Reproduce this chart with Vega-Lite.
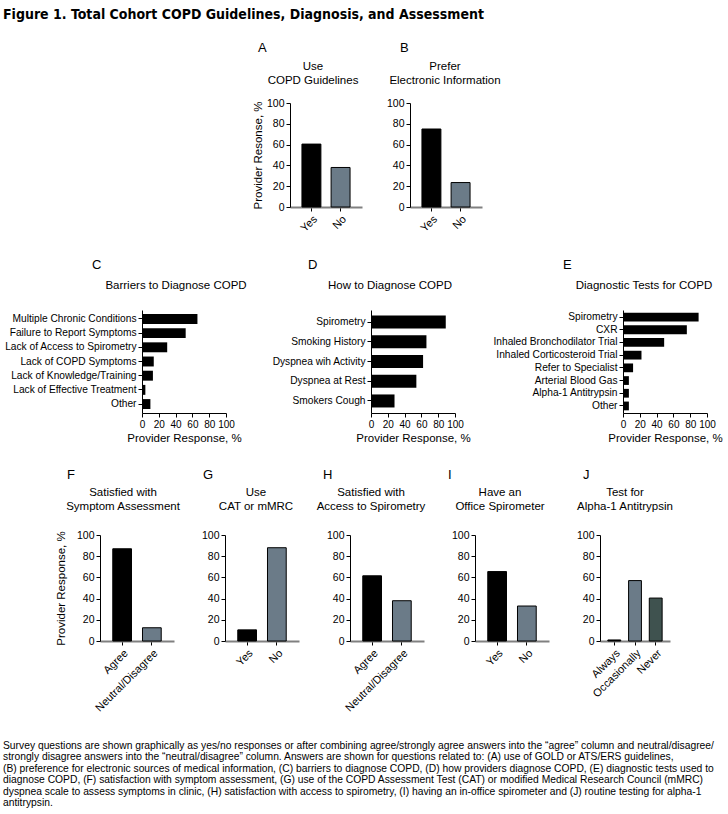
{
  "$schema": "https://vega.github.io/schema/vega-lite/v6.json",
  "background": "white",
  "padding": {"left": 3, "top": 8, "right": 5, "bottom": 5},
  "spacing": 0,
  "datasets": {
    "A": [{"response": "Yes", "percent": 60.5}, {"response": "No", "percent": 38}],
    "B": [{"response": "Yes", "percent": 75}, {"response": "No", "percent": 23.5}],
    "C": [
      {"item": "Multiple Chronic Conditions", "percent": 66},
      {"item": "Failure to Report Symptoms", "percent": 52},
      {"item": "Lack of Access to Spirometry", "percent": 30},
      {"item": "Lack of COPD Symptoms", "percent": 14},
      {"item": "Lack of Knowledge/Training", "percent": 13},
      {"item": "Lack of Effective Treatment", "percent": 4},
      {"item": "Other", "percent": 10}
    ],
    "D": [
      {"item": "Spirometry", "percent": 89},
      {"item": "Smoking History", "percent": 66},
      {"item": "Dyspnea wih Activity", "percent": 62},
      {"item": "Dyspnea at Rest", "percent": 54},
      {"item": "Smokers Cough", "percent": 28}
    ],
    "E": [
      {"item": "Spirometry", "percent": 90},
      {"item": "CXR", "percent": 76},
      {"item": "Inhaled Bronchodilator Trial", "percent": 49},
      {"item": "Inhaled Corticosteroid Trial", "percent": 22},
      {"item": "Refer to Specialist", "percent": 12},
      {"item": "Arterial Blood Gas", "percent": 7},
      {"item": "Alpha-1 Antitrypsin", "percent": 7},
      {"item": "Other", "percent": 7}
    ],
    "F": [{"response": "Agree", "percent": 87}, {"response": "Neutral/Disagree", "percent": 12.5}],
    "G": [{"response": "Yes", "percent": 10.5}, {"response": "No", "percent": 88}],
    "H": [{"response": "Agree", "percent": 61.5}, {"response": "Neutral/Disagree", "percent": 38}],
    "I": [{"response": "Yes", "percent": 65.5}, {"response": "No", "percent": 33}],
    "J": [{"response": "Always", "percent": 1}, {"response": "Occasionally", "percent": 57}, {"response": "Never", "percent": 40.5}],
    "blank": [{}]
  },
  "config": {
    "font": "Liberation Sans",
    "view": {"stroke": null},
    "title": {"fontSize": 11.5, "fontWeight": "normal", "color": "#000", "baseline": "bottom", "lineHeight": 13.5, "frame": "group"},
    "axis": {"labelFontSize": 10.5, "titleFontSize": 11.5, "titleFontWeight": "normal", "labelColor": "#000", "titleColor": "#000", "domainColor": "#000", "tickColor": "#000", "tickSize": 4, "labelPadding": 2, "grid": false, "labelFlush": false}
  },
  "vconcat": [
    {"hconcat": [
      {"width": 100, "height": 156, "data": {"name": "blank"}, "mark": {"type": "point", "opacity": 0}, "encoding": {},
       "title": {"text": "Figure 1. Total Cohort COPD Guidelines, Diagnosis, and Assessment", "anchor": "start", "font": "Noto Sans Condensed, DejaVu Sans Condensed, Liberation Sans", "fontWeight": "bold", "fontSize": 14, "offset": 81}},
      {"width": 187, "height": 104, "data": {"name": "blank"}, "mark": {"type": "point", "opacity": 0}, "encoding": {},
       "title": {"text": "A", "anchor": "start", "dx": 155, "offset": 48, "fontSize": 13}},
      {"width": 72, "height": 104, "data": {"name": "A"},
       "title": {"text": ["Use", "COPD Guidelines"], "dx": -13, "offset": 12},
       "mark": {"type": "bar", "stroke": "#000", "strokeWidth": 1},
       "encoding": {
         "x": {"field": "response", "type": "nominal", "sort": null, "scale": {"paddingInner": 0.35, "paddingOuter": 0.41},
               "axis": {"title": null, "labelAngle": -45, "domainColor": "#808080", "domainWidth": 2, "labelFontSize": 11}},
         "y": {"field": "percent", "type": "quantitative", "scale": {"domain": [0, 100]},
               "axis": {"values": [0, 20, 40, 60, 80, 100], "title": "Provider Resonse, %", "titlePadding": 3}},
         "color": {"field": "response", "type": "nominal", "legend": null,
                   "scale": {"domain": ["Yes", "No", "Agree", "Neutral/Disagree", "Always", "Occasionally", "Never"], "range": ["#000000", "#6b7b88", "#000000", "#6b7b88", "#000000", "#6b7b88", "#3f524f"]}}
       }},
      {"width": 48, "height": 104, "data": {"name": "blank"}, "mark": {"type": "point", "opacity": 0}, "encoding": {},
       "title": {"text": "B", "anchor": "start", "dx": 38, "offset": 48, "fontSize": 13}},
      {"width": 72, "height": 104, "data": {"name": "B"},
       "title": {"text": ["Prefer", "Electronic Information"], "dx": -1, "offset": 12},
       "mark": {"type": "bar", "stroke": "#000", "strokeWidth": 1},
       "encoding": {
         "x": {"field": "response", "type": "nominal", "sort": null, "scale": {"paddingInner": 0.35, "paddingOuter": 0.41},
               "axis": {"title": null, "labelAngle": -45, "domainColor": "#808080", "domainWidth": 2, "labelFontSize": 11}},
         "y": {"field": "percent", "type": "quantitative", "scale": {"domain": [0, 100]},
               "axis": {"values": [0, 20, 40, 60, 80, 100], "title": null}},
         "color": {"field": "response", "type": "nominal", "legend": null,
                   "scale": {"domain": ["Yes", "No", "Agree", "Neutral/Disagree", "Always", "Occasionally", "Never"], "range": ["#000000", "#6b7b88", "#000000", "#6b7b88", "#000000", "#6b7b88", "#3f524f"]}}
       }}
    ], "spacing": 0, "bounds": "flush"},
    {"hconcat": [
      {"width": 50, "height": 159, "data": {"name": "blank"}, "mark": {"type": "point", "opacity": 0}, "encoding": {}},
      {"width": 89, "height": 103, "data": {"name": "blank"}, "mark": {"type": "point", "opacity": 0}, "encoding": {},
       "title": {"text": "C", "anchor": "start", "dx": 39, "offset": 38, "fontSize": 13}},
      {"width": 84, "height": 103, "data": {"name": "C"},
       "title": {"text": "Barriers to Diagnose COPD", "dx": -8, "offset": 18.6},
       "mark": {"type": "bar", "color": "#000"},
       "encoding": {
         "y": {"field": "item", "type": "nominal", "sort": null, "scale": {"paddingInner": 0.3, "paddingOuter": 0.28},
               "axis": {"title": null, "labelFontSize": 10.2, "labelLimit": 300}},
         "x": {"field": "percent", "type": "quantitative", "scale": {"domain": [0, 100]},
               "axis": {"values": [0, 20, 40, 60, 80, 100], "title": "Provider Response, %", "labelOverlap": false, "labelFontSize": 10, "titlePadding": 3}}
       }},
      {"width": 145, "height": 103, "data": {"name": "blank"}, "mark": {"type": "point", "opacity": 0}, "encoding": {},
       "title": {"text": "D", "anchor": "start", "dx": 82, "offset": 38, "fontSize": 13}},
      {"width": 84, "height": 103, "data": {"name": "D"},
       "title": {"text": "How to Diagnose COPD", "dx": -23, "offset": 18.6},
       "mark": {"type": "bar", "color": "#000"},
       "encoding": {
         "y": {"field": "item", "type": "nominal", "sort": null, "scale": {"paddingInner": 0.34, "paddingOuter": 0.28},
               "axis": {"title": null, "labelFontSize": 10.2, "labelLimit": 300}},
         "x": {"field": "percent", "type": "quantitative", "scale": {"domain": [0, 100]},
               "axis": {"values": [0, 20, 40, 60, 80, 100], "title": "Provider Response, %", "labelOverlap": false, "labelFontSize": 10, "titlePadding": 3}}
       }},
      {"width": 168, "height": 103, "data": {"name": "blank"}, "mark": {"type": "point", "opacity": 0}, "encoding": {},
       "title": {"text": "E", "anchor": "start", "dx": 108, "offset": 38, "fontSize": 13}},
      {"width": 84, "height": 103, "data": {"name": "E"},
       "title": {"text": "Diagnostic Tests for COPD", "dx": -21, "offset": 18.6},
       "mark": {"type": "bar", "color": "#000"},
       "encoding": {
         "y": {"field": "item", "type": "nominal", "sort": null, "scale": {"paddingInner": 0.31, "paddingOuter": 0.21},
               "axis": {"title": null, "labelFontSize": 10.2, "labelLimit": 300}},
         "x": {"field": "percent", "type": "quantitative", "scale": {"domain": [0, 100]},
               "axis": {"values": [0, 20, 40, 60, 80, 100], "title": "Provider Response, %", "labelOverlap": false, "labelFontSize": 10, "titlePadding": 3}}
       }}
    ], "spacing": 0, "bounds": "flush"},
    {"hconcat": [
      {"width": 50, "height": 106, "data": {"name": "blank"}, "mark": {"type": "point", "opacity": 0}, "encoding": {},
       "title": {"text": [
         "Survey questions are shown graphically as yes/no responses or after combining agree/strongly agree answers into the \u201cagree\u201d column and neutral/disagree/",
         "strongly disagree answers into the \u201cneutral/disagree\u201d column. Answers are shown for questions related to: (A) use of GOLD or ATS/ERS guidelines,",
         "(B) preference for electronic sources of medical information, (C) barriers to diagnose COPD, (D) how providers diagnose COPD, (E) diagnostic tests used to",
         "diagnose COPD, (F) satisfaction with symptom assessment, (G) use of the COPD Assessment Test (CAT) or modified Medical Research Council (mMRC)",
         "dyspnea scale to assess symptoms in clinic, (H) satisfaction with access to spirometry, (I) having an in-office spirometer and (J) routine testing for alpha-1",
         "antitrypsin."],
        "orient": "bottom", "anchor": "start", "baseline": "top", "fontSize": 10.3, "lineHeight": 11.4, "offset": 100}},
      {"width": 47, "height": 106, "data": {"name": "blank"}, "mark": {"type": "point", "opacity": 0}, "encoding": {},
       "title": {"text": "F", "anchor": "start", "dx": 14, "offset": 53, "fontSize": 13}},
      {"width": 74, "height": 106, "data": {"name": "F"},
       "title": {"text": ["Satisfied with", "Symptom Assessment"], "dx": -14, "offset": 18},
       "mark": {"type": "bar", "stroke": "#000", "strokeWidth": 1},
       "encoding": {
         "x": {"field": "response", "type": "nominal", "sort": null, "scale": {"paddingInner": 0.37, "paddingOuter": 0.43},
               "axis": {"title": null, "labelAngle": -45, "domainColor": "#808080", "domainWidth": 2, "labelFontSize": 11}},
         "y": {"field": "percent", "type": "quantitative", "scale": {"domain": [0, 100]},
               "axis": {"values": [0, 20, 40, 60, 80, 100], "title": "Provider Response, %", "titlePadding": 10}},
         "color": {"field": "response", "type": "nominal", "legend": null,
                   "scale": {"domain": ["Yes", "No", "Agree", "Neutral/Disagree", "Always", "Occasionally", "Never"], "range": ["#000000", "#6b7b88", "#000000", "#6b7b88", "#000000", "#6b7b88", "#3f524f"]}}
       }},
      {"width": 51, "height": 106, "data": {"name": "blank"}, "mark": {"type": "point", "opacity": 0}, "encoding": {},
       "title": {"text": "G", "anchor": "start", "dx": 29, "offset": 53, "fontSize": 13}},
      {"width": 74, "height": 106, "data": {"name": "G"},
       "title": {"text": ["Use", "CAT or mMRC"], "dx": -6, "offset": 18},
       "mark": {"type": "bar", "stroke": "#000", "strokeWidth": 1},
       "encoding": {
         "x": {"field": "response", "type": "nominal", "sort": null, "scale": {"paddingInner": 0.37, "paddingOuter": 0.43},
               "axis": {"title": null, "labelAngle": -45, "domainColor": "#808080", "domainWidth": 2, "labelFontSize": 11}},
         "y": {"field": "percent", "type": "quantitative", "scale": {"domain": [0, 100]},
               "axis": {"values": [0, 20, 40, 60, 80, 100], "title": null}},
         "color": {"field": "response", "type": "nominal", "legend": null,
                   "scale": {"domain": ["Yes", "No", "Agree", "Neutral/Disagree", "Always", "Occasionally", "Never"], "range": ["#000000", "#6b7b88", "#000000", "#6b7b88", "#000000", "#6b7b88", "#3f524f"]}}
       }},
      {"width": 51, "height": 106, "data": {"name": "blank"}, "mark": {"type": "point", "opacity": 0}, "encoding": {},
       "title": {"text": "H", "anchor": "start", "dx": 24, "offset": 53, "fontSize": 13}},
      {"width": 74, "height": 106, "data": {"name": "H"},
       "title": {"text": ["Satisfied with", "Access to Spirometry"], "dx": -16, "offset": 18},
       "mark": {"type": "bar", "stroke": "#000", "strokeWidth": 1},
       "encoding": {
         "x": {"field": "response", "type": "nominal", "sort": null, "scale": {"paddingInner": 0.37, "paddingOuter": 0.43},
               "axis": {"title": null, "labelAngle": -45, "domainColor": "#808080", "domainWidth": 2, "labelFontSize": 11}},
         "y": {"field": "percent", "type": "quantitative", "scale": {"domain": [0, 100]},
               "axis": {"values": [0, 20, 40, 60, 80, 100], "title": null}},
         "color": {"field": "response", "type": "nominal", "legend": null,
                   "scale": {"domain": ["Yes", "No", "Agree", "Neutral/Disagree", "Always", "Occasionally", "Never"], "range": ["#000000", "#6b7b88", "#000000", "#6b7b88", "#000000", "#6b7b88", "#3f524f"]}}
       }},
      {"width": 51, "height": 106, "data": {"name": "blank"}, "mark": {"type": "point", "opacity": 0}, "encoding": {},
       "title": {"text": "I", "anchor": "start", "dx": 24, "offset": 53, "fontSize": 13}},
      {"width": 74, "height": 106, "data": {"name": "I"},
       "title": {"text": ["Have an", "Office Spirometer"], "dx": -12, "offset": 18},
       "mark": {"type": "bar", "stroke": "#000", "strokeWidth": 1},
       "encoding": {
         "x": {"field": "response", "type": "nominal", "sort": null, "scale": {"paddingInner": 0.37, "paddingOuter": 0.43},
               "axis": {"title": null, "labelAngle": -45, "domainColor": "#808080", "domainWidth": 2, "labelFontSize": 11}},
         "y": {"field": "percent", "type": "quantitative", "scale": {"domain": [0, 100]},
               "axis": {"values": [0, 20, 40, 60, 80, 100], "title": null}},
         "color": {"field": "response", "type": "nominal", "legend": null,
                   "scale": {"domain": ["Yes", "No", "Agree", "Neutral/Disagree", "Always", "Occasionally", "Never"], "range": ["#000000", "#6b7b88", "#000000", "#6b7b88", "#000000", "#6b7b88", "#3f524f"]}}
       }},
      {"width": 51, "height": 106, "data": {"name": "blank"}, "mark": {"type": "point", "opacity": 0}, "encoding": {},
       "title": {"text": "J", "anchor": "start", "dx": 34, "offset": 53, "fontSize": 13}},
      {"width": 70, "height": 106, "data": {"name": "J"},
       "title": {"text": ["Test for", "Alpha-1 Antitrypsin"], "dx": -10, "offset": 18},
       "mark": {"type": "bar", "stroke": "#000", "strokeWidth": 1},
       "encoding": {
         "x": {"field": "response", "type": "nominal", "sort": null, "scale": {"paddingInner": 0.38, "paddingOuter": 0.38},
               "axis": {"title": null, "labelAngle": -45, "domainColor": "#808080", "domainWidth": 2, "labelFontSize": 11}},
         "y": {"field": "percent", "type": "quantitative", "scale": {"domain": [0, 100]},
               "axis": {"values": [0, 20, 40, 60, 80, 100], "title": null}},
         "color": {"field": "response", "type": "nominal", "legend": null,
                   "scale": {"domain": ["Yes", "No", "Agree", "Neutral/Disagree", "Always", "Occasionally", "Never"], "range": ["#000000", "#6b7b88", "#000000", "#6b7b88", "#000000", "#6b7b88", "#3f524f"]}}
       }}
    ], "spacing": 0, "bounds": "flush"}
  ]
}
